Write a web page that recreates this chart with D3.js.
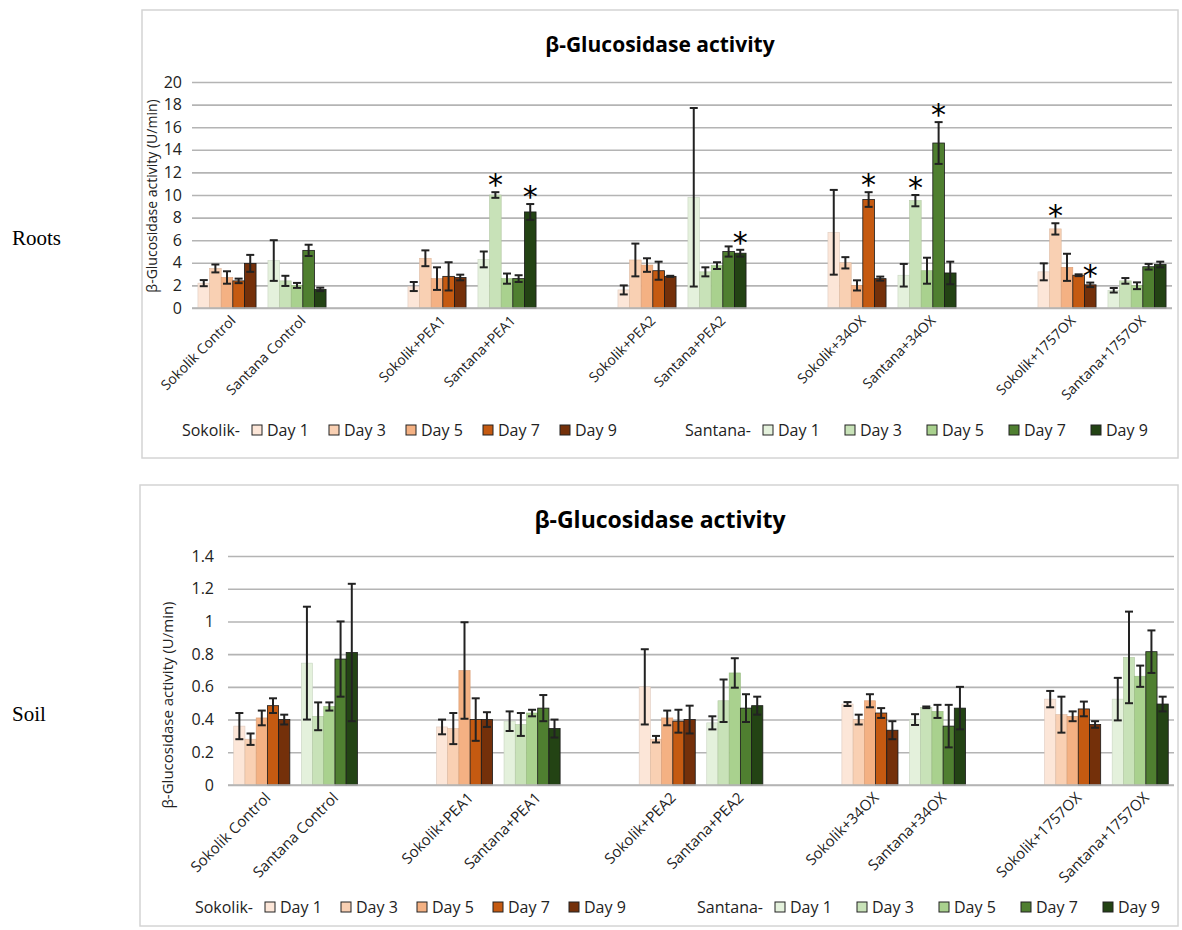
<!DOCTYPE html>
<html>
<head>
<meta charset="utf-8">
<script src="https://cdn.jsdelivr.net/npm/d3@7"></script>
<style>
  body { margin: 0; background: #fff; }
  svg text { font-family: "Open Sans", "Liberation Sans", sans-serif; }
</style>
</head>
<body>
<script>
// categories, days and colours
const days = ["Day 1", "Day 3", "Day 5", "Day 7", "Day 9"];
const categories = ["Sokolik Control", "Santana Control", "Sokolik+PEA1", "Santana+PEA1",
  "Sokolik+PEA2", "Santana+PEA2", "Sokolik+34OX", "Santana+34OX", "Sokolik+1757OX", "Santana+1757OX"];
const sokolikColors = ["#fce6d8", "#f9d0b3", "#f4b183", "#c55a11", "#74300a"];
const santanaColors = ["#e4f1dc", "#c8e2b8", "#a9d18e", "#4f7f30", "#234314"];

// roots: mean and error per category, one value per day
const rootsMean = [
  [2.2, 3.5, 2.7, 2.4, 3.95],
  [4.2, 2.4, 2.0, 5.1, 1.65],
  [1.9, 4.4, 2.6, 2.8, 2.7],
  [4.3, 10.0, 2.6, 2.6, 8.5],
  [1.6, 4.25, 3.8, 3.3, 2.8],
  [9.8, 3.2, 3.75, 5.0, 4.85],
  [6.7, 4.0, 2.0, 9.6, 2.6],
  [2.9, 9.5, 3.3, 14.6, 3.1],
  [3.2, 7.0, 3.6, 2.9, 2.05],
  [1.57, 2.4, 1.97, 3.65, 3.85]
];
const rootsErr = [
  [0.27, 0.35, 0.55, 0.2, 0.75],
  [1.8, 0.45, 0.22, 0.5, 0.15],
  [0.4, 0.7, 1.0, 1.25, 0.25],
  [0.7, 0.25, 0.45, 0.3, 0.7],
  [0.4, 1.45, 0.6, 0.8, 0.05],
  [7.9, 0.4, 0.3, 0.45, 0.3],
  [3.75, 0.5, 0.45, 0.65, 0.18],
  [1.0, 0.5, 1.15, 1.85, 1.0],
  [0.75, 0.5, 1.2, 0.08, 0.2],
  [0.2, 0.25, 0.3, 0.25, 0.25]
];
// [category index, day index] marked with *
const rootsStars = [[3, 1], [3, 4], [5, 4], [6, 3], [7, 1], [7, 3], [8, 1], [8, 4]];
const rootsTicks = [0, 2, 4, 6, 8, 10, 12, 14, 16, 18, 20];

// soil
const soilMean = [
  [0.36, 0.28, 0.41, 0.485, 0.40],
  [0.745, 0.42, 0.48, 0.77, 0.81],
  [0.355, 0.345, 0.70, 0.40, 0.40],
  [0.39, 0.37, 0.44, 0.47, 0.345],
  [0.60, 0.28, 0.41, 0.39, 0.40],
  [0.38, 0.515, 0.685, 0.47, 0.485],
  [0.495, 0.40, 0.515, 0.44, 0.335],
  [0.40, 0.475, 0.45, 0.36, 0.47],
  [0.525, 0.43, 0.42, 0.465, 0.37],
  [0.525, 0.78, 0.665, 0.815, 0.495]
];
const soilErr = [
  [0.08, 0.035, 0.045, 0.045, 0.03],
  [0.345, 0.085, 0.025, 0.23, 0.42],
  [0.045, 0.095, 0.295, 0.13, 0.045],
  [0.06, 0.07, 0.02, 0.08, 0.055],
  [0.23, 0.02, 0.045, 0.07, 0.085],
  [0.04, 0.13, 0.09, 0.085, 0.055],
  [0.012, 0.03, 0.04, 0.03, 0.055],
  [0.033, 0.005, 0.04, 0.13, 0.13],
  [0.05, 0.11, 0.03, 0.045, 0.02],
  [0.13, 0.28, 0.065, 0.13, 0.045]
];
const soilTicks = [0, 0.2, 0.4, 0.6, 0.8, 1, 1.2, 1.4];

const W = 1182, H = 930;
const svg = d3.select("body").append("svg").attr("width", W).attr("height", H);

// side labels
svg.append("text").attr("x", 12).attr("y", 245).text("Roots")
  .style("font-family", "'Liberation Serif', serif").style("font-size", "21px");
svg.append("text").attr("x", 12).attr("y", 721).text("Soil")
  .style("font-family", "'Liberation Serif', serif").style("font-size", "21px");

function drawChart(o) {
  const g = svg.append("g");
  g.append("rect").attr("x", o.frame[0]).attr("y", o.frame[1])
    .attr("width", o.frame[2]).attr("height", o.frame[3])
    .attr("fill", "#fff").attr("stroke", "#d4d4d4").attr("stroke-width", 1.5);

  g.append("text").attr("x", o.titleX).attr("y", o.titleY).attr("text-anchor", "middle")
    .style("font-size", o.titleSize + "px").style("font-weight", "bold").text("β-Glucosidase activity");

  const y = d3.scaleLinear().domain([0, d3.max(o.ticks)]).range([o.y0, o.y1]);
  const x0 = d3.scaleBand().domain(d3.range(14)).range([o.x0, o.x1])
    .paddingInner(0.17).paddingOuter(0.085);
  const x1 = d3.scaleBand().domain(d3.range(5)).range([0, x0.bandwidth()]);
  const slot = i => Math.floor(i / 2) * 3 + (i % 2);

  // grid + axis
  const yAxis = d3.axisLeft(y).tickValues(o.ticks).tickSize(-(o.x1 - o.x0))
    .tickFormat(d => String(+d.toFixed(1)));
  const ax = g.append("g").attr("transform", `translate(${o.x0},0)`).call(yAxis);
  ax.select(".domain").remove();
  ax.selectAll(".tick line").attr("stroke", "#b4b4b4").attr("stroke-width", 1.6);
  ax.selectAll(".tick text").attr("x", -o.tickGap).style("font-size", o.tickSize + "px").attr("fill", "#222");

  g.append("text").attr("transform", `translate(${o.ylabX},${o.ylabY}) rotate(-90)`)
    .attr("text-anchor", "middle").style("font-size", o.ylabSize + "px").attr("fill", "#222")
    .text("β-Glucosidase activity (U/min)");

  // bars
  const bars = [];
  categories.forEach((c, i) => days.forEach((d, j) => {
    bars.push({ i, j, v: o.mean[i][j], e: o.err[i][j],
      color: (i % 2 === 0 ? sokolikColors : santanaColors)[j] });
  }));
  const bx = b => x0(slot(b.i)) + x1(b.j);
  g.selectAll("rect.bar").data(bars).enter().append("rect").attr("class", "bar")
    .attr("x", bx).attr("width", x1.bandwidth())
    .attr("y", b => y(b.v)).attr("height", b => y(0) - y(b.v))
    .attr("fill", b => b.color)
    .attr("stroke", b => b.j >= 3 ? "#1a1a1a" : d3.color(b.color).darker(0.35))
    .attr("stroke-width", b => b.j >= 3 ? 0.8 : 0.6);

  // error bars
  const cap = 4;
  const eg = g.selectAll("g.err").data(bars).enter().append("g").attr("class", "err")
    .attr("stroke", "#222").attr("stroke-width", 2);
  eg.append("line").attr("x1", b => bx(b) + x1.bandwidth() / 2).attr("x2", b => bx(b) + x1.bandwidth() / 2)
    .attr("y1", b => y(b.v + b.e)).attr("y2", b => y(Math.max(0, b.v - b.e)));
  eg.append("line").attr("x1", b => bx(b) + x1.bandwidth() / 2 - cap).attr("x2", b => bx(b) + x1.bandwidth() / 2 + cap)
    .attr("y1", b => y(b.v + b.e)).attr("y2", b => y(b.v + b.e));
  eg.append("line").attr("x1", b => bx(b) + x1.bandwidth() / 2 - cap).attr("x2", b => bx(b) + x1.bandwidth() / 2 + cap)
    .attr("y1", b => y(Math.max(0, b.v - b.e))).attr("y2", b => y(Math.max(0, b.v - b.e)));

  // stars
  const stars = (o.stars || []).map(([i, j]) => bars.find(b => b.i === i && b.j === j));
  g.selectAll("text.star").data(stars).enter().append("text").attr("class", "star")
    .attr("x", b => bx(b) + x1.bandwidth() / 2).attr("y", b => y(b.v + b.e) + 3)
    .attr("text-anchor", "middle").style("font-size", "30px")
    .style("font-family", "'DejaVu Sans', sans-serif").text("*");

  // baseline
  g.append("line").attr("x1", o.x0).attr("x2", o.x1).attr("y1", y(0)).attr("y2", y(0))
    .attr("stroke", "#b4b4b4").attr("stroke-width", 1.6);

  // category labels
  g.selectAll("text.cat").data(categories).enter().append("text").attr("class", "cat")
    .attr("transform", (c, i) => `translate(${x0(slot(i)) + x0.bandwidth() / 2 + 6},${y(0) + 10}) rotate(-45)`)
    .attr("text-anchor", "end").attr("dy", "0.35em").style("font-size", o.catSize + "px").attr("fill", "#222")
    .text(c => c);

  // legend
  const leg = [
    { name: "Sokolik-", colors: sokolikColors, x: o.legA, step: o.legStepA },
    { name: "Santana-", colors: santanaColors, x: o.legB, step: o.legStepB }
  ];
  leg.forEach(L => {
    const lg = g.append("g");
    lg.append("text").attr("x", L.x - 12).attr("y", o.legY).attr("dy", "0.35em")
      .attr("text-anchor", "end").style("font-size", "16px").attr("fill", "#222").text(L.name);
    days.forEach((d, j) => {
      lg.append("rect").attr("x", L.x + j * L.step).attr("y", o.legY - 5)
        .attr("width", 10).attr("height", 10).attr("fill", L.colors[j])
        .attr("stroke", "#222").attr("stroke-width", 1);
      lg.append("text").attr("x", L.x + j * L.step + 15).attr("y", o.legY).attr("dy", "0.35em")
        .style("font-size", "16px").attr("fill", "#222").text(d);
    });
  });
}

drawChart({
  frame: [142, 10, 1036, 448], titleX: 660, titleY: 52, titleSize: 21,
  x0: 192, x1: 1172, y0: 308, y1: 82, ticks: rootsTicks, tickGap: 10, tickSize: 16,
  ylabX: 157, ylabY: 196, ylabSize: 14, catSize: 14,
  mean: rootsMean, err: rootsErr, stars: rootsStars,
  legY: 430, legA: 252, legStepA: 77, legB: 763, legStepB: 82
});

drawChart({
  frame: [140, 485, 1038, 441], titleX: 660, titleY: 528, titleSize: 23,
  x0: 228, x1: 1174, y0: 785, y1: 556, ticks: soilTicks, tickGap: 14, tickSize: 16,
  ylabX: 173, ylabY: 705, ylabSize: 15, catSize: 15,
  mean: soilMean, err: soilErr, stars: [],
  legY: 907, legA: 265, legStepA: 76, legB: 775, legStepB: 82
});
</script>
</body>
</html>
